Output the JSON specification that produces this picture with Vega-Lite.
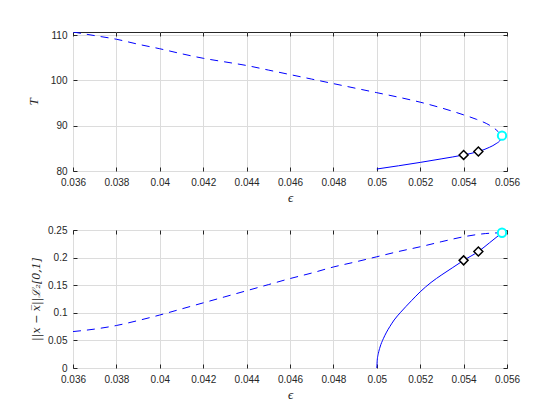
{
  "$schema": "https://vega.github.io/schema/vega-lite/v6.json",
  "autosize": {"type": "pad"},
  "padding": {"left": 26, "top": 29, "right": 5, "bottom": 5},
  "bounds": "flush",
  "spacing": 59,
  "background": "white",
  "config": {
    "view": {"stroke": "#262626", "strokeWidth": 1},
    "axis": {
      "labelFont": "Liberation Sans",
      "labelFontSize": 10,
      "labelColor": "#262626",
      "labelFlush": false,
      "labelOverlap": false,
      "titleFont": "Liberation Serif",
      "titleFontStyle": "italic",
      "titleFontWeight": "normal",
      "titleFontSize": 13,
      "titleColor": "#262626",
      "gridColor": "#dcdcdc",
      "gridOpacity": 1,
      "gridWidth": 1,
      "domain": false,
      "tickColor": "#262626",
      "tickSize": -4,
      "tickWidth": 1
    }
  },
  "datasets": {
    "top": [
      {"eps": 0.036, "T": 110.7, "branch": "unstable"},
      {"eps": 0.037, "T": 109.9, "branch": "unstable"},
      {"eps": 0.038, "T": 109.1, "branch": "unstable"},
      {"eps": 0.039, "T": 108.0, "branch": "unstable"},
      {"eps": 0.040, "T": 107.0, "branch": "unstable"},
      {"eps": 0.041, "T": 105.9, "branch": "unstable"},
      {"eps": 0.042, "T": 104.9, "branch": "unstable"},
      {"eps": 0.043, "T": 104.1, "branch": "unstable"},
      {"eps": 0.044, "T": 103.3, "branch": "unstable"},
      {"eps": 0.045, "T": 102.3, "branch": "unstable"},
      {"eps": 0.046, "T": 101.3, "branch": "unstable"},
      {"eps": 0.047, "T": 100.3, "branch": "unstable"},
      {"eps": 0.048, "T": 99.3, "branch": "unstable"},
      {"eps": 0.049, "T": 98.3, "branch": "unstable"},
      {"eps": 0.050, "T": 97.3, "branch": "unstable"},
      {"eps": 0.051, "T": 96.3, "branch": "unstable"},
      {"eps": 0.052, "T": 95.2, "branch": "unstable"},
      {"eps": 0.053, "T": 93.9, "branch": "unstable"},
      {"eps": 0.054, "T": 92.4, "branch": "unstable"},
      {"eps": 0.0546, "T": 91.4, "branch": "unstable"},
      {"eps": 0.0552, "T": 90.1, "branch": "unstable"},
      {"eps": 0.0555, "T": 89.1, "branch": "unstable"},
      {"eps": 0.05577, "T": 87.8, "branch": "unstable"},
      {"eps": 0.050, "T": 80.44, "branch": "stable"},
      {"eps": 0.051, "T": 81.15, "branch": "stable"},
      {"eps": 0.052, "T": 81.9, "branch": "stable"},
      {"eps": 0.053, "T": 82.7, "branch": "stable"},
      {"eps": 0.054, "T": 83.55, "branch": "stable"},
      {"eps": 0.05468, "T": 84.3, "branch": "stable"},
      {"eps": 0.0552, "T": 85.25, "branch": "stable"},
      {"eps": 0.0555, "T": 86.05, "branch": "stable"},
      {"eps": 0.0557, "T": 86.9, "branch": "stable"},
      {"eps": 0.05577, "T": 87.8, "branch": "stable"}
    ],
    "bottom": [
      {"eps": 0.036, "E": 0.066, "branch": "unstable"},
      {"eps": 0.037, "E": 0.0705, "branch": "unstable"},
      {"eps": 0.038, "E": 0.077, "branch": "unstable"},
      {"eps": 0.039, "E": 0.086, "branch": "unstable"},
      {"eps": 0.040, "E": 0.096, "branch": "unstable"},
      {"eps": 0.041, "E": 0.107, "branch": "unstable"},
      {"eps": 0.042, "E": 0.118, "branch": "unstable"},
      {"eps": 0.043, "E": 0.129, "branch": "unstable"},
      {"eps": 0.044, "E": 0.140, "branch": "unstable"},
      {"eps": 0.045, "E": 0.151, "branch": "unstable"},
      {"eps": 0.046, "E": 0.162, "branch": "unstable"},
      {"eps": 0.047, "E": 0.172, "branch": "unstable"},
      {"eps": 0.048, "E": 0.183, "branch": "unstable"},
      {"eps": 0.049, "E": 0.192, "branch": "unstable"},
      {"eps": 0.050, "E": 0.2015, "branch": "unstable"},
      {"eps": 0.051, "E": 0.211, "branch": "unstable"},
      {"eps": 0.052, "E": 0.2196, "branch": "unstable"},
      {"eps": 0.053, "E": 0.229, "branch": "unstable"},
      {"eps": 0.054, "E": 0.2377, "branch": "unstable"},
      {"eps": 0.055, "E": 0.2435, "branch": "unstable"},
      {"eps": 0.05577, "E": 0.245, "branch": "unstable"},
      {"eps": 0.050, "E": 0.0, "branch": "stable"},
      {"eps": 0.05002, "E": 0.014, "branch": "stable"},
      {"eps": 0.05007, "E": 0.026, "branch": "stable"},
      {"eps": 0.05015, "E": 0.038, "branch": "stable"},
      {"eps": 0.0503, "E": 0.053, "branch": "stable"},
      {"eps": 0.05045, "E": 0.065, "branch": "stable"},
      {"eps": 0.0506, "E": 0.075, "branch": "stable"},
      {"eps": 0.0508, "E": 0.087, "branch": "stable"},
      {"eps": 0.0511, "E": 0.101, "branch": "stable"},
      {"eps": 0.0516, "E": 0.122, "branch": "stable"},
      {"eps": 0.052, "E": 0.138, "branch": "stable"},
      {"eps": 0.0525, "E": 0.155, "branch": "stable"},
      {"eps": 0.053, "E": 0.169, "branch": "stable"},
      {"eps": 0.0535, "E": 0.182, "branch": "stable"},
      {"eps": 0.054, "E": 0.195, "branch": "stable"},
      {"eps": 0.05468, "E": 0.211, "branch": "stable"},
      {"eps": 0.0552, "E": 0.227, "branch": "stable"},
      {"eps": 0.05577, "E": 0.245, "branch": "stable"}
    ],
    "pts": [
      {"eps": 0.054, "T": 83.55, "E": 0.195, "kind": "diamond"},
      {"eps": 0.05468, "T": 84.3, "E": 0.211, "kind": "diamond"},
      {"eps": 0.05577, "T": 87.8, "E": 0.245, "kind": "fold"}
    ]
  },
  "vconcat": [
    {
      "width": 434,
      "height": 139,
      "resolve": {"axis": {"x": "independent", "y": "independent"}},
      "layer": [
        {
          "data": {"name": "top"},
          "transform": [{"filter": "datum.branch == 'unstable'"}],
          "mark": {"type": "line", "color": "#0000ff", "strokeWidth": 1, "strokeDash": [8, 6], "interpolate": "monotone", "clip": true},
          "encoding": {
            "x": {"field": "eps", "type": "quantitative", "scale": {"domain": [0.036, 0.056], "nice": false, "zero": false},
                  "axis": {"values": [0.036, 0.038, 0.04, 0.042, 0.044, 0.046, 0.048, 0.05, 0.052, 0.054, 0.056], "format": "~g", "title": "ϵ", "labelPadding": 10, "titlePadding": 4}},
            "y": {"field": "T", "type": "quantitative", "scale": {"domain": [80, 110.7], "nice": false, "zero": false},
                  "axis": {"values": [80, 90, 100, 110], "title": "T", "labelPadding": 10, "titlePadding": 10}}
          }
        },
        {
          "data": {"name": "top"},
          "transform": [{"filter": "datum.branch == 'stable'"}],
          "mark": {"type": "line", "color": "#0000ff", "strokeWidth": 1, "interpolate": "monotone", "clip": true},
          "encoding": {
            "x": {"field": "eps", "type": "quantitative", "axis": null},
            "y": {"field": "T", "type": "quantitative", "axis": null}
          }
        },
        {
          "data": {"name": "pts"},
          "transform": [{"filter": "datum.kind == 'diamond'"}],
          "mark": {"type": "point", "shape": "diamond", "size": 80, "filled": true, "fill": "white", "stroke": "black", "strokeWidth": 1.5, "opacity": 1},
          "encoding": {
            "x": {"field": "eps", "type": "quantitative",
                  "axis": {"orient": "top", "values": [0.036, 0.038, 0.04, 0.042, 0.044, 0.046, 0.048, 0.05, 0.052, 0.054, 0.056], "labels": false, "grid": false, "title": null}},
            "y": {"field": "T", "type": "quantitative",
                  "axis": {"orient": "right", "values": [80, 90, 100, 110], "labels": false, "grid": false, "title": null}}
          }
        },
        {
          "data": {"name": "pts"},
          "transform": [{"filter": "datum.kind == 'fold'"}],
          "mark": {"type": "point", "shape": "circle", "size": 70, "filled": true, "fill": "white", "stroke": "#00ffff", "strokeWidth": 2, "opacity": 1},
          "encoding": {
            "x": {"field": "eps", "type": "quantitative", "axis": null},
            "y": {"field": "T", "type": "quantitative", "axis": null}
          }
        }
      ]
    },
    {
      "width": 434,
      "height": 138,
      "resolve": {"axis": {"x": "independent", "y": "independent"}},
      "layer": [
        {
          "data": {"name": "bottom"},
          "transform": [{"filter": "datum.branch == 'unstable'"}],
          "mark": {"type": "line", "color": "#0000ff", "strokeWidth": 1, "strokeDash": [8, 6], "interpolate": "monotone", "clip": true},
          "encoding": {
            "x": {"field": "eps", "type": "quantitative", "scale": {"domain": [0.036, 0.056], "nice": false, "zero": false},
                  "axis": {"values": [0.036, 0.038, 0.04, 0.042, 0.044, 0.046, 0.048, 0.05, 0.052, 0.054, 0.056], "format": "~g", "title": "ϵ", "labelPadding": 10, "titlePadding": 4}},
            "y": {"field": "E", "type": "quantitative", "scale": {"domain": [0, 0.25], "nice": false, "zero": false},
                  "axis": {"values": [0, 0.05, 0.1, 0.15, 0.2, 0.25], "format": "~g", "title": "||x − x̅||ℒ₂[0,1]", "titleFont": "DejaVu Serif", "titleFontSize": 11, "labelPadding": 10, "titlePadding": 6}}
          }
        },
        {
          "data": {"name": "bottom"},
          "transform": [{"filter": "datum.branch == 'stable'"}],
          "mark": {"type": "line", "color": "#0000ff", "strokeWidth": 1, "interpolate": "monotone", "clip": true},
          "encoding": {
            "x": {"field": "eps", "type": "quantitative", "axis": null},
            "y": {"field": "E", "type": "quantitative", "axis": null}
          }
        },
        {
          "data": {"name": "pts"},
          "transform": [{"filter": "datum.kind == 'diamond'"}],
          "mark": {"type": "point", "shape": "diamond", "size": 80, "filled": true, "fill": "white", "stroke": "black", "strokeWidth": 1.5, "opacity": 1},
          "encoding": {
            "x": {"field": "eps", "type": "quantitative",
                  "axis": {"orient": "top", "values": [0.036, 0.038, 0.04, 0.042, 0.044, 0.046, 0.048, 0.05, 0.052, 0.054, 0.056], "labels": false, "grid": false, "title": null}},
            "y": {"field": "E", "type": "quantitative",
                  "axis": {"orient": "right", "values": [0, 0.05, 0.1, 0.15, 0.2, 0.25], "labels": false, "grid": false, "title": null}}
          }
        },
        {
          "data": {"name": "pts"},
          "transform": [{"filter": "datum.kind == 'fold'"}],
          "mark": {"type": "point", "shape": "circle", "size": 70, "filled": true, "fill": "white", "stroke": "#00ffff", "strokeWidth": 2, "opacity": 1},
          "encoding": {
            "x": {"field": "eps", "type": "quantitative", "axis": null},
            "y": {"field": "E", "type": "quantitative", "axis": null}
          }
        }
      ]
    }
  ]
}
